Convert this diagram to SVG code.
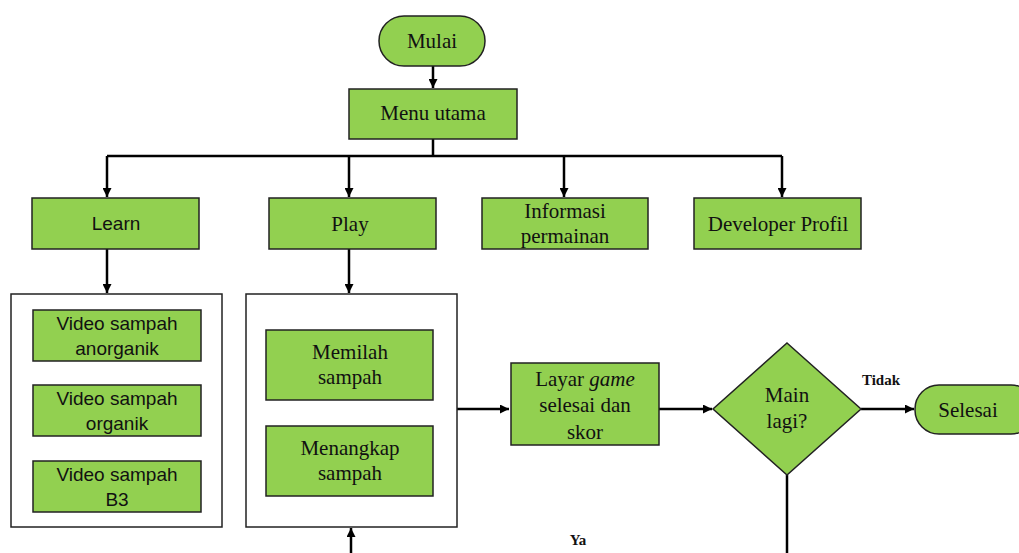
<svg xmlns="http://www.w3.org/2000/svg" width="1019" height="553" viewBox="0 0 1019 553">
<style>
.box{fill:#92D050;stroke:#222;stroke-width:1.5}
.cont{fill:#fff;stroke:#222;stroke-width:1.5}
.t{font-family:"Liberation Serif","Times New Roman",serif;font-size:21px;fill:#111;text-anchor:middle}
.s{font-family:"Liberation Sans",Arial,sans-serif;font-size:19px;fill:#111;text-anchor:middle}
.lbl{font-family:"Liberation Serif","Times New Roman",serif;font-size:15px;font-weight:bold;fill:#111;text-anchor:middle}
.c{fill:none;stroke:#000;stroke-width:2.5}
</style>
<defs>
<marker id="ah" viewBox="0 0 10 10" refX="10" refY="5" markerWidth="3.6" markerHeight="3.6" orient="auto" markerUnits="strokeWidth">
<path d="M0,0 L10,5 L0,10 z" fill="#000"/>
</marker>
</defs>
<rect width="1019" height="553" fill="#fff"/>
<g id="connectors">
<path class="c" d="M433,66 V88" marker-end="url(#ah)"/>
<path class="c" d="M433,139 V156 M107,156 H782"/>
<path class="c" d="M107,156 V197" marker-end="url(#ah)"/>
<path class="c" d="M349,156 V197" marker-end="url(#ah)"/>
<path class="c" d="M564,156 V197" marker-end="url(#ah)"/>
<path class="c" d="M782,156 V197" marker-end="url(#ah)"/>
<path class="c" d="M107,249 V293" marker-end="url(#ah)"/>
<path class="c" d="M349,249 V293" marker-end="url(#ah)"/>
<path class="c" d="M457,409 H509" marker-end="url(#ah)"/>
<path class="c" d="M659,409 H712" marker-end="url(#ah)"/>
<path class="c" d="M861,409 H914" marker-end="url(#ah)"/>
<path class="c" d="M787,475 V553"/>
<path class="c" d="M351,553 V528" marker-end="url(#ah)"/>
</g>
<g id="mulai"><rect class="box" x="379" y="16" width="106" height="50" rx="25"/><text class="t" x="432" y="48">Mulai</text></g>
<g id="menu-utama"><rect class="box" x="349" y="89" width="168" height="50"/><text class="t" x="433" y="120">Menu utama</text></g>
<g id="learn"><rect class="box" x="32" y="198" width="167" height="51"/><text class="s" x="116" y="230">Learn</text></g>
<g id="play"><rect class="box" x="269" y="198" width="167" height="51"/><text class="t" x="350" y="231">Play</text></g>
<g id="informasi"><rect class="box" x="482" y="198" width="166" height="51"/><text class="t" x="565" y="218">Informasi</text><text class="t" x="565" y="243">permainan</text></g>
<g id="developer"><rect class="box" x="694" y="198" width="167" height="51"/><text class="t" x="778" y="231">Developer Profil</text></g>
<g id="learn-group"><rect class="cont" x="11" y="294" width="211" height="233"/>
<rect class="box" x="33" y="310" width="168" height="51"/><text class="s" x="117" y="330">Video sampah</text><text class="s" x="117" y="355">anorganik</text>
<rect class="box" x="33" y="385" width="168" height="51"/><text class="s" x="117" y="405">Video sampah</text><text class="s" x="117" y="430">organik</text>
<rect class="box" x="33" y="461" width="168" height="51"/><text class="s" x="117" y="481">Video sampah</text><text class="s" x="117" y="506">B3</text>
</g>
<g id="play-group"><rect class="cont" x="246" y="294" width="211" height="233"/>
<rect class="box" x="266" y="330" width="167" height="70"/><text class="t" x="350" y="359">Memilah</text><text class="t" x="350" y="384">sampah</text>
<rect class="box" x="266" y="426" width="167" height="70"/><text class="t" x="350" y="455">Menangkap</text><text class="t" x="350" y="480">sampah</text>
</g>
<g id="layar"><rect class="box" x="511" y="363" width="148" height="82"/><text class="t" x="585" y="386">Layar <tspan font-style="italic">game</tspan></text><text class="t" x="585" y="412">selesai dan</text><text class="t" x="585" y="439">skor</text></g>
<g id="main-lagi"><path class="box" d="M787,343 L861,409 L787,475 L713,409 z"/><text class="t" x="787" y="402">Main</text><text class="t" x="787" y="428">lagi?</text></g>
<g id="selesai"><rect class="box" x="915" y="385" width="120" height="49" rx="24"/><text class="t" x="968" y="417">Selesai</text></g>
<text class="lbl" x="881" y="385">Tidak</text>
<text class="lbl" x="578" y="545">Ya</text>
</svg>
